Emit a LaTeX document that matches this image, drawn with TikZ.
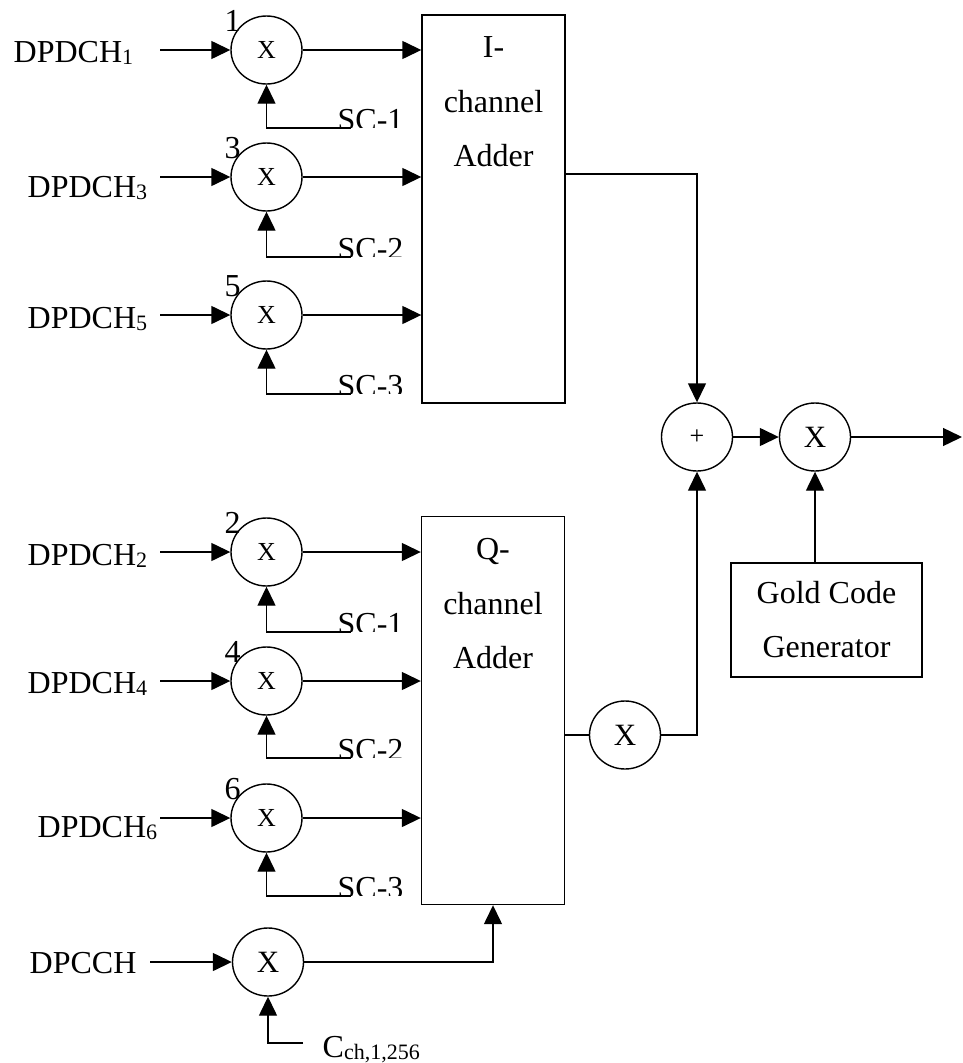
\documentclass[tikz,border=0pt]{standalone}
\usepackage{fontspec}
\setmainfont{Liberation Serif}
\usetikzlibrary{positioning,arrows.meta,shapes.geometric}
\newcommand{\lowidx}[1]{\raisebox{-2pt}{\fontsize{22}{22}\selectfont #1}}

\begin{document}
\begin{tikzpicture}[x=1pt, y=-1pt, line width=1.4pt,
  every node/.style={font=\fontsize{32}{36}\selectfont},
  mult/.style={draw, ellipse, minimum width=71pt, minimum height=68pt, inner sep=0pt, font=\fontsize{26}{26}\selectfont},
  bigmult/.style={mult, font=\fontsize{31}{31}\selectfont},
  adder/.style={draw, rectangle, minimum width=143pt, minimum height=388pt, inner sep=0pt},
  boxtxt/.style={anchor=north, align=center, inner sep=0pt, font=\fontsize{32}{54.5}\selectfont},
  arr/.style={-{Triangle[length=19pt,width=18pt]}}]
\useasboundingbox (0,0) rectangle (963,1063);

% the two channel adders
\node[adder] (iadd) at (493.5,209) {};
\node[boxtxt] (itxt) at (493.5,36) {I-\\channel\\Adder};
\node[adder] (qadd) at (493,710.5) {};
\node[boxtxt] (qtxt) at (493,538) {Q-\\channel\\Adder};

% data channels with their spreading codes
\foreach \n/\cy/\lx/\bl/\sy/\sc/\bx in {1/50/13/62/128/1/iadd, 3/177/27/197/257/2/iadd, 5/315/27/328/394/3/iadd,
    2/552/27/565/632/1/qadd, 4/681/27/693/758/2/qadd, 6/818/37/837/896/3/qadd} {
  \node[mult] (m\n) at (266.5,\cy) {X};
  \node[inner sep=0pt] (k\n) at ([xshift=-34pt, yshift=29pt]m\n.center) {\n};
  \node[anchor=base west, inner sep=0pt] (d\n) at (\lx,\bl) {DPDCH\lowidx{\n}};
  \coordinate (s\n) at (160,\cy);
  \coordinate (c\n) at (351,\sy);
  \draw[arr] (s\n) -- (m\n);
  \draw[arr] (m\n.east) -- (m\n.east -| \bx.west);
  \draw[arr] (c\n) -| (m\n.south);
  \begin{scope}
    \clip (330,\sy-45) rectangle (425,\sy-1);
    \node[anchor=base west, inner sep=0pt] (t\n) at (337,\sy+2) {SC-\sc};
  \end{scope}
}

% control channel
\node[bigmult] (mc) at (268,962) {X};
\node[anchor=base west, inner sep=0pt] (dc) at (29,973) {DPCCH};
\node[anchor=base west, inner sep=0pt] (cch) at (322,1057) {C\lowidx{ch,1,256}};
\coordinate (sc) at (150,962);
\coordinate (cc) at (303,1043);
\draw[arr] (sc) -- (mc);
\draw[arr] (cc) -| (mc.south);
\draw[arr] (mc.east) -| (qadd.south);

% combining and scrambling
\node[bigmult] (mq) at (625,735) {X};
\node[mult] (sum) at (697,437) {+};
\node[bigmult] (mf) at (815,437) {X};
\node[draw, minimum width=191pt, minimum height=114pt, align=center, font=\fontsize{32}{54}\selectfont] (gold) at (826.5,620) {Gold Code\\Generator};
\coordinate (iout) at (565,174);
\coordinate (out) at (962,437);
\draw (qadd.east |- mq) -- (mq.west);
\draw[arr] (mq.east) -| (sum.south);
\draw[arr] (iout) -| (sum.north);
\draw[arr] (sum) -- (mf);
\draw[arr] (mf) -- (out);
\draw[arr] (gold.north -| mf) -- (mf.south);
\end{tikzpicture}
\end{document}
